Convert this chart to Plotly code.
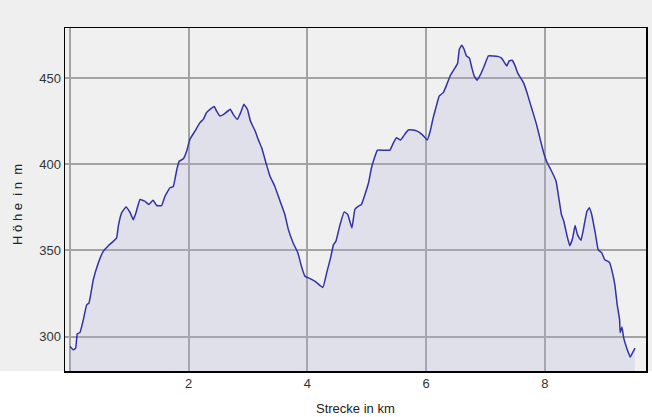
import plotly.graph_objects as go

distance_km = [
    0.00, 0.056, 0.096, 0.123, 0.168, 0.225, 0.281, 0.32, 0.393, 0.477, 0.561, 0.646, 0.73, 0.786,
    0.814, 0.87, 0.944, 1.01, 1.067, 1.11, 1.18, 1.26, 1.33, 1.40, 1.46, 1.545, 1.60, 1.685,
    1.74, 1.80, 1.84, 1.91, 1.966, 2.02, 2.106, 2.19, 2.246, 2.30, 2.36, 2.43, 2.47, 2.53,
    2.59, 2.70, 2.75, 2.82, 2.876, 2.93, 2.99, 3.04, 3.12, 3.17, 3.23, 3.31, 3.37, 3.45,
    3.54, 3.62, 3.68, 3.76, 3.84, 3.90, 3.96, 4.02, 4.13, 4.26, 4.325, 4.39, 4.44, 4.48,
    4.55, 4.62, 4.68, 4.75, 4.80, 4.86, 4.91, 4.97, 5.03, 5.08, 5.14, 5.18, 5.28, 5.39,
    5.45, 5.50, 5.57, 5.64, 5.70, 5.78, 5.85, 5.93, 6.02, 6.07, 6.12, 6.18, 6.22, 6.29,
    6.35, 6.41, 6.49, 6.53, 6.56, 6.60, 6.64, 6.68, 6.73, 6.77, 6.81, 6.86, 6.92, 6.98,
    7.05, 7.13, 7.22, 7.27, 7.32, 7.36, 7.40, 7.45, 7.50, 7.54, 7.59, 7.64, 7.70, 7.75,
    7.81, 7.86, 7.93, 7.99, 8.04, 8.10, 8.19, 8.24, 8.28, 8.32, 8.37, 8.42, 8.47, 8.51,
    8.55, 8.61, 8.67, 8.71, 8.75, 8.79, 8.85, 8.90, 8.96, 9.01, 9.09, 9.14, 9.18, 9.22,
    9.26, 9.27, 9.30, 9.33, 9.38, 9.44, 9.46, 9.52,
]
elevation_m = [
    294.2, 292.3, 293.3, 301.6, 302.3, 309.7, 318.4, 319.4, 333.0, 342.7, 349.4, 352.7, 355.2, 357.2,
    364.0, 371.7, 375.2, 372.1, 367.8, 371.7, 379.5, 378.5, 376.6, 379.1, 376.0, 376.0, 381.4, 386.3,
    387.0, 396.9, 401.7, 403.1, 407.6, 414.4, 419.2, 424.1, 426.0, 429.9, 431.8, 433.4, 430.8, 427.9,
    428.9, 431.8, 428.9, 426.0, 429.9, 434.7, 431.8, 425.0, 419.2, 414.4, 409.5, 399.8, 393.0, 387.2,
    378.5, 370.8, 362.0, 354.3, 348.5, 340.7, 334.9, 334.0, 332.0, 328.5, 336.9, 345.6, 353.3, 355.2,
    364.9, 372.3, 370.8, 363.0, 373.7, 375.6, 376.6, 382.4, 389.2, 397.9, 404.7, 408.1, 408.1, 408.1,
    412.4, 415.3, 414.0, 417.3, 419.8, 419.8, 419.2, 417.3, 414.0, 419.2, 427.0, 434.7, 439.5, 441.5,
    446.3, 451.6, 456.0, 458.4, 466.7, 469.0, 466.7, 462.8, 461.5, 456.0, 451.2, 448.7, 452.2, 457.0,
    462.8, 462.8, 462.4, 461.5, 459.0, 457.0, 459.9, 460.3, 457.0, 453.1, 450.2, 447.3, 441.5, 435.7,
    428.9, 423.1, 413.4, 405.6, 400.8, 396.9, 390.1, 379.5, 370.8, 366.9, 359.1, 352.7, 357.2, 364.4,
    359.1, 355.8, 365.9, 372.7, 374.7, 370.8, 360.1, 350.4, 348.5, 344.6, 343.0, 336.9, 330.1, 318.4,
    309.7, 302.3, 305.5, 299.1, 293.3, 288.0, 289.4, 293.3,
]

x_tick_values = [0, 2, 4, 6, 8]
x_tick_labels = ["", "2", "4", "6", "8"]
y_tick_values = [300, 350, 400, 450]
y_tick_labels = ["300", "350", "400", "450"]

x_title = "Strecke in km"
y_title = "\u00a0".join(["H", "ö", "h", "e", "", "i", "n", "", "m"])

font_family = "Liberation Sans, Arial, sans-serif"

fig = go.Figure()
fig.add_trace(go.Scatter(
    x=distance_km, y=elevation_m, mode="lines",
    line=dict(color="#3232a6", width=1.5, shape="spline", smoothing=0.3),
    fill="tozeroy", fillcolor="rgba(176,176,216,0.25)",
    hoverinfo="skip", showlegend=False,
))

fig.update_layout(
    width=652, height=417,
    margin=dict(l=65, r=6, t=28, b=46, autoexpand=False),
    paper_bgcolor="#efefef",
    plot_bgcolor="#f0f0f0",
    font=dict(family=font_family, size=13, color="#333333"),
    shapes=[dict(
        type="rect", xref="paper", yref="paper",
        x0=-0.2, x1=1.2, y0=-0.2, y1=0,
        fillcolor="white", line=dict(width=0), layer="below",
    )],
    annotations=[
        dict(text=x_title, xref="paper", yref="paper", x=0.5, y=-0.108,
             xanchor="center", yanchor="middle", showarrow=False,
             font=dict(size=13, color="#222222")),
        dict(text=y_title, xref="paper", yref="paper", x=-0.081, y=0.487,
             xanchor="center", yanchor="middle", showarrow=False, textangle=-90,
             font=dict(size=13, color="#222222")),
    ],
)
fig.update_xaxes(
    range=[-0.084, 9.705], automargin=False,
    tickvals=x_tick_values, ticktext=x_tick_labels,
    showgrid=True, gridcolor="#a3a3a3", gridwidth=2,
    zeroline=False,
    showline=True, linecolor="black", linewidth=1.5, mirror=True,
    ticks="", tickfont=dict(size=13, color="#333333"),
)
fig.update_yaxes(
    range=[280, 479], automargin=False,
    tickvals=y_tick_values, ticktext=y_tick_labels,
    showgrid=True, gridcolor="#a3a3a3", gridwidth=2,
    zeroline=False,
    showline=True, linecolor="black", linewidth=1.5, mirror=True,
    ticks="", tickfont=dict(size=13, color="#333333"),
)

fig.write_html(
    "out.html",
    config={"displayModeBar": False, "staticPlot": True},
    post_script="document.body.style.margin='0px';document.body.style.padding='0px';",
)
